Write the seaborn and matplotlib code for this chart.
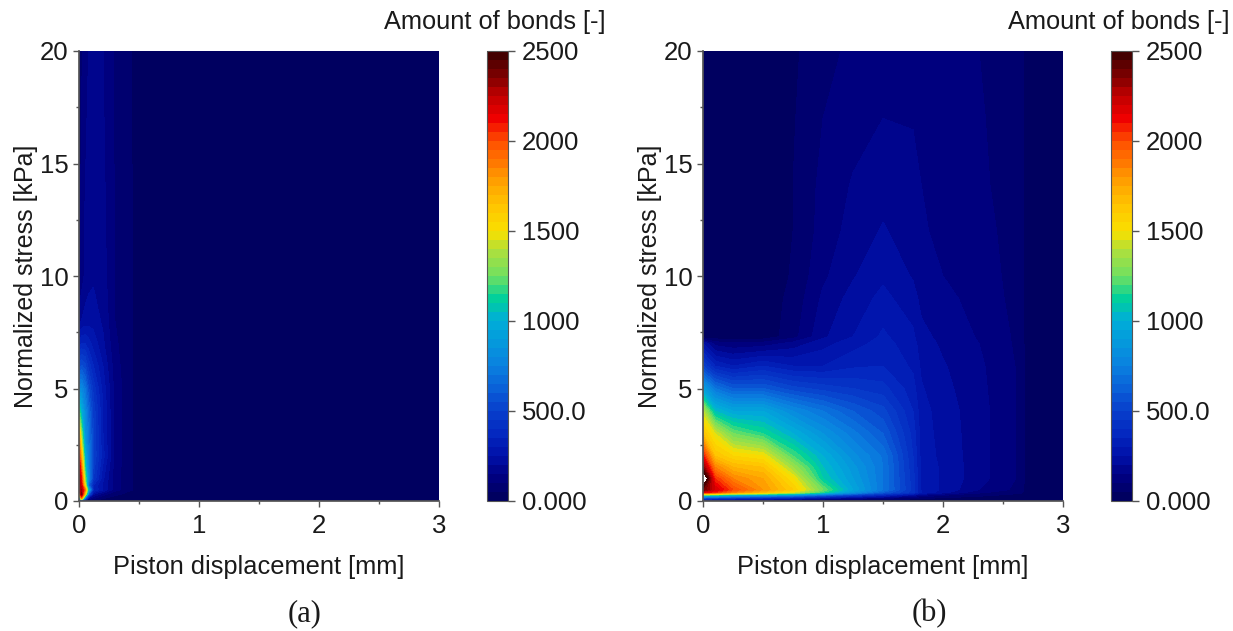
import numpy as np
import matplotlib
matplotlib.use('Agg')
import matplotlib.pyplot as plt
from matplotlib.ticker import MultipleLocator, FixedLocator
import seaborn as sns

# piston displacement / normalized stress grids
x_a = [0, 0.02, 0.05, 0.08, 0.12, 0.2, 0.3, 0.45, 0.47, 3]
y_a = [0, 0.1, 0.3, 0.5, 0.7, 1, 2, 3, 4, 5, 6, 7, 8, 10, 20]
bonds_a = [
    [5, 30, 20, 15, 12, 10, 10, 8, 6, 5],
    [300, 1800, 600, 150, 100, 50, 30, 15, 8, 5],
    [1500, 2400, 1600, 600, 200, 120, 60, 30, 8, 6],
    [2300, 2300, 1900, 1000, 350, 250, 120, 50, 10, 8],
    [2300, 2200, 1500, 650, 350, 240, 120, 50, 10, 8],
    [2350, 2100, 1300, 800, 450, 260, 120, 50, 10, 8],
    [2100, 1700, 1000, 750, 500, 320, 130, 50, 10, 8],
    [1750, 1300, 850, 700, 500, 300, 130, 50, 10, 8],
    [1200, 1000, 800, 650, 480, 300, 130, 50, 10, 8],
    [800, 800, 700, 560, 430, 280, 130, 50, 10, 8],
    [500, 560, 520, 430, 350, 250, 120, 50, 10, 8],
    [300, 350, 350, 320, 280, 210, 110, 50, 10, 8],
    [180, 200, 220, 230, 230, 190, 100, 50, 10, 8],
    [90, 120, 160, 180, 190, 170, 100, 50, 10, 8],
    [50, 90, 130, 150, 170, 150, 90, 45, 10, 8],
]

x_b = [0, 0.1, 0.25, 0.5, 0.75, 1.0, 1.25, 1.5, 1.75, 1.82, 2.0, 2.3, 2.65, 2.7, 3]
y_b = [0, 0.12, 0.25, 0.38, 0.5, 1, 1.5, 2, 3, 4, 5, 6, 7, 7.3, 9, 10, 12, 14, 17, 20]
bonds_b = [
    [30, 30, 30, 25, 25, 20, 20, 15, 15, 14, 12, 10, 8, 8, 8],
    [500, 450, 400, 350, 300, 200, 150, 100, 60, 50, 40, 25, 15, 10, 8],
    [1100, 1050, 950, 850, 750, 600, 450, 330, 200, 150, 100, 60, 30, 12, 10],
    [2150, 2050, 1850, 1650, 1450, 1150, 850, 600, 420, 300, 220, 110, 60, 14, 12],
    [2400, 2200, 2000, 1800, 1600, 1250, 950, 700, 430, 290, 240, 150, 80, 15, 12],
    [2750, 2050, 1850, 1750, 1500, 1100, 900, 700, 420, 290, 240, 170, 90, 15, 12],
    [2350, 1850, 1700, 1650, 1350, 1050, 870, 700, 410, 285, 240, 170, 90, 15, 12],
    [2100, 1650, 1550, 1500, 1200, 1000, 820, 690, 400, 280, 235, 170, 90, 15, 12],
    [1650, 1450, 1250, 1150, 1000, 850, 720, 600, 380, 275, 230, 170, 90, 15, 12],
    [1400, 1050, 950, 950, 800, 700, 600, 520, 350, 270, 225, 170, 90, 15, 12],
    [900, 700, 600, 600, 520, 480, 450, 420, 320, 255, 215, 165, 90, 15, 12],
    [500, 350, 300, 350, 300, 300, 340, 350, 290, 240, 205, 160, 90, 15, 12],
    [250, 130, 110, 120, 170, 230, 280, 320, 270, 225, 190, 150, 85, 15, 12],
    [12, 12, 12, 15, 80, 190, 250, 310, 260, 215, 185, 145, 85, 15, 12],
    [10, 10, 12, 18, 65, 160, 220, 265, 220, 185, 165, 130, 80, 15, 12],
    [10, 10, 12, 18, 55, 140, 195, 240, 195, 170, 150, 125, 78, 15, 12],
    [10, 10, 12, 18, 50, 120, 170, 205, 175, 155, 140, 118, 75, 15, 12],
    [10, 10, 12, 16, 50, 115, 155, 180, 175, 150, 130, 110, 72, 15, 12],
    [10, 10, 12, 15, 45, 100, 130, 150, 145, 135, 125, 105, 72, 15, 12],
    [10, 10, 12, 15, 40, 85, 110, 125, 125, 120, 115, 100, 70, 15, 12],
]

ramp_colors = ['#00005a', '#000080', '#0010a8', '#0428c0', '#0840cc', '#0a60d8', '#0a80e0',
               '#0598dc', '#00aed8', '#00d09c', '#70e060', '#a8e040', '#f8e000', '#ffc800',
               '#ffa800', '#ff7c00', '#ff5000', '#f00000', '#c00000', '#7a0000', '#3a0000']
cbar_ticks = [0, 500, 1000, 1500, 2000, 2500]
cbar_labels = ['0.000', '500.0', '1000', '1500', '2000', '2500']
panel_names = ['(a)', '(b)']

sns.set_theme(style='ticks')
plt.rcParams['font.family'] = ['Liberation Sans', 'DejaVu Sans']

W, H = 1233, 631
cmap = sns.blend_palette(ramp_colors, n_colors=256, as_cmap=True)
levels = np.linspace(0, 2500, 51)
edge = '#555555'
ink = '#1a1a1a'


def px_rect(left, top, right, bottom):
    return [left / W, 1 - bottom / H, (right - left) / W, (bottom - top) / H]


def draw_panel(fig, x, y, z, left, name):
    ax = fig.add_axes(px_rect(left, 51, left + 360, 501))
    cs = ax.contourf(x, y, np.array(z), levels=levels, cmap=cmap)
    ax.set_facecolor('white')
    ax.set_xlim(0, 3)
    ax.set_ylim(0, 20)
    ax.xaxis.set_major_locator(MultipleLocator(1))
    ax.xaxis.set_minor_locator(MultipleLocator(0.5))
    ax.yaxis.set_major_locator(MultipleLocator(5))
    ax.yaxis.set_minor_locator(MultipleLocator(2.5))
    ax.tick_params(which='major', length=4.5, width=1, color=edge, labelsize=18.5, pad=3, labelcolor=ink)
    ax.tick_params(axis='x', which='major', pad=5)
    ax.tick_params(which='minor', length=2.5, width=1, color=edge)
    ax.set_xlabel('Piston displacement [mm]', fontsize=18.3, color=ink, labelpad=12)
    ax.set_ylabel('Normalized stress [kPa]', fontsize=18, color=ink, labelpad=1)
    sns.despine(ax=ax)
    ax.spines['left'].set_color(edge)
    ax.spines['bottom'].set_color(edge)

    cax = fig.add_axes(px_rect(left + 408, 51, left + 429, 501))
    cb = fig.colorbar(cs, cax=cax)
    cb.ax.yaxis.set_major_locator(FixedLocator(cbar_ticks))
    cb.ax.set_yticklabels(cbar_labels)
    cb.ax.minorticks_off()
    cb.ax.tick_params(length=5, width=1, color=edge, labelsize=18.5, pad=5, labelcolor=ink)
    cb.outline.set_edgecolor(edge)
    cb.outline.set_linewidth(0.8)

    fig.text((left + 526) / W, 1 - 22 / H, 'Amount of bonds [-]', ha='right', va='center',
             fontsize=18.3, color=ink)
    fig.text((left + 226) / W, 1 - 614 / H, name, ha='center', va='center',
             fontsize=22, family=['Liberation Serif', 'DejaVu Serif'], color=ink)


fig = plt.figure(figsize=(W / 100, H / 100), dpi=100)
draw_panel(fig, x_a, y_a, bonds_a, 79, panel_names[0])
draw_panel(fig, x_b, y_b, bonds_b, 703, panel_names[1])
fig.savefig('out.png', dpi=100)
